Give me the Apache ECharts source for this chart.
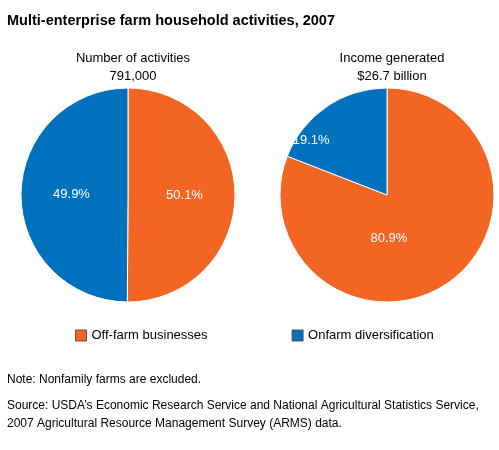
<!DOCTYPE html>
<html><head><meta charset="utf-8">
<script src="https://cdn.jsdelivr.net/npm/echarts@6/dist/echarts.min.js"></script>
<style>body{margin:0;background:#fff}#c{width:499px;height:450px}</style>
</head><body><div id="c"></div>
<script>
var categories=['Off-farm businesses','Onfarm diversification'];
var activityShares=[50.1,49.9];
var incomeShares=[80.9,19.1];
var colors=['#f26522','#0071bc'];

function pieData(vals,offsets){
	var out=[];
	for(var i=0;i<vals.length;i++){
		out.push({name:categories[i],value:vals[i],itemStyle:{color:colors[i]},label:{offset:offsets[i]}});
	}
	return out;
}
var baseFont={fontFamily:'Liberation Sans, Arial, sans-serif'};
var chart=echarts.init(document.getElementById('c'));
chart.setOption({
	animation:false,
	textStyle:baseFont,
	title:[
		{text:'Multi-enterprise farm household activities, 2007',left:2,top:8,textStyle:{fontSize:14.5,fontWeight:'bold',color:'#000'}},
		{text:'Number of activities\n791,000',left:128,top:44,textAlign:'center',textStyle:{fontSize:13,fontWeight:'normal',color:'#000',lineHeight:18}},
		{text:'Income generated\n$26.7 billion',left:387,top:44,textAlign:'center',textStyle:{fontSize:13,fontWeight:'normal',color:'#000',lineHeight:18}},
		{text:'Note: Nonfamily farms are excluded.',left:2,top:369,textStyle:{fontSize:12,fontWeight:'normal',color:'#000'}},
		{text:'Source: USDA\u2019s Economic Research Service and National Agricultural Statistics Service,\n2007 Agricultural Resource Management Survey (ARMS) data.',left:2,top:392,textStyle:{fontSize:12,fontWeight:'normal',color:'#000',lineHeight:18}}
	],
	legend:{
		data:categories,left:70,top:324,itemGap:84,itemWidth:11,itemHeight:11,icon:'rect',
		itemStyle:{borderColor:'#555',borderWidth:1},
		textStyle:{fontSize:13,color:'#000'}
	},
	series:[
		{type:'pie',center:[128,195],radius:[0,107],startAngle:90,clockwise:true,
			itemStyle:{borderColor:'#fff',borderWidth:1},
			label:{position:'inside',formatter:'{c}%',color:'#fff',fontSize:13},
			labelLine:{show:false},
			data:pieData(activityShares,[[0,0],[0,0]])},
		{type:'pie',center:[387,195],radius:[0,107],startAngle:90,clockwise:true,
			itemStyle:{borderColor:'#fff',borderWidth:1},
			label:{position:'inside',formatter:'{c}%',color:'#fff',fontSize:13},
			labelLine:{show:false},
			data:pieData(incomeShares,[[-30,-3],[-44,-8]])}
	]
});
</script></body></html>
